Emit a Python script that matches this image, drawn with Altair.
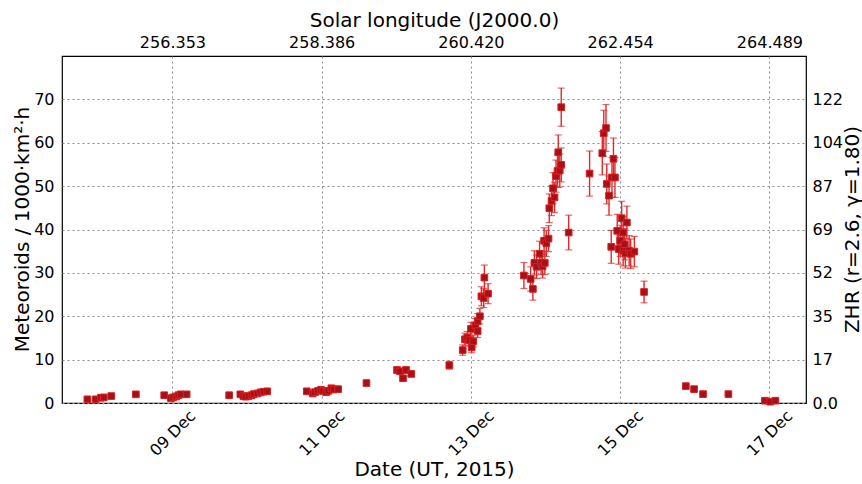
import altair as alt
import pandas as pd

# ---- data (day of December 2015, UT) ----
days = [7.86, 7.97, 8.04, 8.08, 8.18, 8.51, 8.89, 8.98, 9.01, 9.05, 9.08, 9.11, 9.19,
        9.76, 9.91, 9.95, 9.98, 10.02, 10.06, 10.09, 10.14, 10.18, 10.22, 10.27,
        10.80, 10.88, 10.91, 10.95, 10.99, 11.02, 11.06, 11.09, 11.13, 11.16, 11.22,
        11.60, 12.01, 12.05, 12.09, 12.13, 12.20, 12.71,
        12.89, 12.92, 12.95, 12.98, 13.01, 13.03, 13.00, 13.06, 13.09, 13.09, 13.12,
        13.14, 13.17, 13.18, 13.23,
        13.71, 13.80, 13.83, 13.85, 13.88, 13.92, 13.94, 13.96, 13.99, 13.98, 14.01,
        14.04, 14.05, 14.08, 14.10, 14.12, 14.14, 14.16, 14.17, 14.19, 14.21, 14.21,
        14.31, 14.59, 14.76, 14.78, 14.81, 14.82, 14.85, 14.88, 14.89, 14.91, 14.93,
        14.96, 14.98, 15.00, 15.02, 15.04, 15.04, 15.06, 15.07, 15.09, 15.12, 15.14,
        15.19, 15.32,
        15.88, 15.99, 16.11, 16.45, 16.94, 17.01, 17.08]
flux = [0.85, 0.85, 1.2, 1.3, 1.6, 2.0, 1.8, 1.1, 1.3, 1.5, 1.8, 2.0, 2.0,
        1.8, 2.0, 1.6, 1.45, 1.6, 1.8, 2.05, 2.2, 2.45, 2.6, 2.7,
        2.7, 2.2, 2.5, 2.8, 3.05, 2.8, 2.5, 2.8, 3.4, 3.1, 3.2,
        4.6, 7.6, 7.3, 5.7, 7.6, 6.7, 8.7,
        12.2, 14.7, 15.1, 14.5, 12.8, 14.2, 17.1, 17.9, 16.6, 18.9, 20.0,
        24.6, 24.2, 28.9, 25.2,
        29.4, 28.6, 26.3, 32.3, 31.4, 34.4, 32.3, 31.5, 32.3, 37.4, 36.8,
        37.9, 44.9, 46.6, 49.5, 47.4, 52.3, 53.5, 57.8, 53.6, 54.9, 68.2,
        39.3, 52.9, 57.6, 62.2, 63.4, 50.5, 47.8, 36.0, 52.0, 56.3, 52.0,
        39.7, 35.5, 37.4, 42.6, 39.3, 35.1, 36.6, 34.5, 41.6, 35.1, 34.4,
        34.9, 25.6,
        3.9, 3.2, 2.05, 2.05, 0.53, 0.3, 0.53]
errs = [0.2, 0.2, 0.25, 0.25, 0.3, 0.3, 0.3, 0.25, 0.25, 0.3, 0.3, 0.3, 0.3,
        0.3, 0.3, 0.3, 0.3, 0.3, 0.3, 0.3, 0.3, 0.35, 0.35, 0.35,
        0.4, 0.35, 0.4, 0.4, 0.4, 0.4, 0.4, 0.4, 0.45, 0.4, 0.45,
        0.5, 0.7, 0.7, 0.6, 0.7, 0.6, 0.9,
        1.2, 1.4, 1.4, 1.4, 1.2, 1.3, 1.5, 1.6, 1.5, 1.7, 1.8,
        2.2, 2.2, 2.9, 2.3,
        3.0, 2.8, 2.6, 2.8, 2.7, 2.9, 2.7, 2.7, 2.7, 3.0, 3.0,
        3.0, 3.3, 3.4, 3.6, 3.5, 3.7, 3.8, 4.0, 3.8, 3.9, 4.4,
        4.0, 5.2, 5.0, 5.3, 5.4, 4.6, 4.5, 3.8, 4.6, 4.8, 4.6,
        3.8, 3.5, 3.6, 3.9, 3.7, 3.5, 3.6, 3.4, 3.8, 3.5, 3.4,
        3.5, 2.5,
        0.35, 0.3, 0.25, 0.25, 0.2, 0.15, 0.2]

date_ticks = [9, 11, 13, 15, 17]
date_labels = ["09 Dec", "11 Dec", "13 Dec", "15 Dec", "17 Dec"]
sollong_labels = ["256.353", "258.386", "260.420", "262.454", "264.489"]
flux_ticks = [0, 10, 20, 30, 40, 50, 60, 70]
zhr_labels = ["0.0", "17", "35", "52", "69", "87", "104", "122"]

df = pd.DataFrame({"day": days, "flux": flux, "err": errs})
df["lo"] = df["flux"] - df["err"]
df["hi"] = df["flux"] + df["err"]


def lookup_expr(ticks, labels):
    arr = "[" + ",".join("'" + s + "'" for s in labels) + "]"
    return arr + "[indexof(" + str(ticks) + ", datum.value)]"


FONT = "DejaVu Sans"
LBL = 16
TTL = 20
xscale = alt.Scale(domain=[7.52, 17.49], nice=False, zero=False)
yscale = alt.Scale(domain=[0, 80], nice=False)

bottom_axis = alt.Axis(
    values=date_ticks, labelExpr=lookup_expr(date_ticks, date_labels),
    labelAngle=315, labelAlign="center", labelBaseline="middle", labelPadding=30,
    labelFontSize=LBL, labelFont=FONT, labelColor="black",
    title="Date (UT, 2015)", titleFont=FONT, titleFontSize=TTL, titleFontWeight="normal",
    titleColor="black", titleY=72, titleBaseline="alphabetic",
    grid=True, gridDash=[2, 3], gridColor="#8c8c8c", gridWidth=1,
    ticks=False, domain=False)
left_axis = alt.Axis(
    values=flux_ticks, format="d", labelFontSize=LBL, labelFont=FONT, labelColor="black",
    labelPadding=8,
    title="Meteoroids / 1000·km²·h", titleFont=FONT, titleFontSize=TTL,
    titleFontWeight="normal", titleColor="black", titleX=-40, titleY=173,
    titleAlign="center", titleBaseline="middle", titleAngle=270,
    grid=True, gridDash=[2, 3], gridColor="#8c8c8c", gridWidth=1,
    ticks=False, domain=False)
top_axis = alt.Axis(
    orient="top", values=date_ticks, labelExpr=lookup_expr(date_ticks, sollong_labels),
    labelFontSize=LBL, labelFont=FONT, labelColor="black", labelPadding=6,
    title="Solar longitude (J2000.0)", titleFont=FONT, titleFontSize=TTL,
    titleFontWeight="normal", titleColor="black", titlePadding=4,
    grid=False, ticks=False, domain=False)
right_axis = alt.Axis(
    orient="right", values=flux_ticks, labelExpr=lookup_expr(flux_ticks, zhr_labels),
    labelFontSize=LBL, labelFont=FONT, labelColor="black", labelPadding=6,
    title="ZHR (r=2.6, γ=1.80)", titleFont=FONT, titleFontSize=TTL,
    titleFontWeight="normal", titleColor="black", titleAngle=270,
    titleX=46, titleY=173, titleAlign="center", titleBaseline="middle",
    grid=False, ticks=False, domain=False)

BAR_COLOR = "#e02a2a"

bars = alt.Chart(df).mark_rule(color=BAR_COLOR, strokeWidth=1.4).encode(
    x=alt.X("day:Q", scale=xscale, axis=bottom_axis),
    y=alt.Y("lo:Q", scale=yscale, axis=left_axis),
    y2="hi:Q")
cap_hi = alt.Chart(df).mark_tick(color=BAR_COLOR, orient="horizontal", size=7, thickness=1.2).encode(
    x=alt.X("day:Q", scale=xscale, axis=None),
    y=alt.Y("hi:Q", scale=yscale, axis=None))
cap_lo = alt.Chart(df).mark_tick(color=BAR_COLOR, orient="horizontal", size=7, thickness=1.2).encode(
    x=alt.X("day:Q", scale=xscale, axis=None),
    y=alt.Y("lo:Q", scale=yscale, axis=None))
points = alt.Chart(df).mark_point(
    shape="square", filled=True, size=44, fill="#a3121a", stroke="#e01e1e",
    strokeWidth=1, opacity=1).encode(
    x=alt.X("day:Q", scale=xscale, axis=None),
    y=alt.Y("flux:Q", scale=yscale, axis=None))
ghost = alt.Chart(df).mark_point(opacity=0).encode(
    x=alt.X("day:Q", scale=xscale, axis=top_axis),
    y=alt.Y("flux:Q", scale=yscale, axis=right_axis))

chart = alt.layer(bars, cap_hi, cap_lo, points, ghost).resolve_axis(
    x="independent", y="independent"
).properties(
    width=744, height=347,
    padding={"left": 62, "top": 56, "right": 56, "bottom": 81},
    autosize=alt.AutoSizeParams(type="none"),
    background="white",
).configure_view(stroke="black", strokeWidth=1.2)

chart.save("out.html", embed_options={"renderer": "svg", "actions": False})
